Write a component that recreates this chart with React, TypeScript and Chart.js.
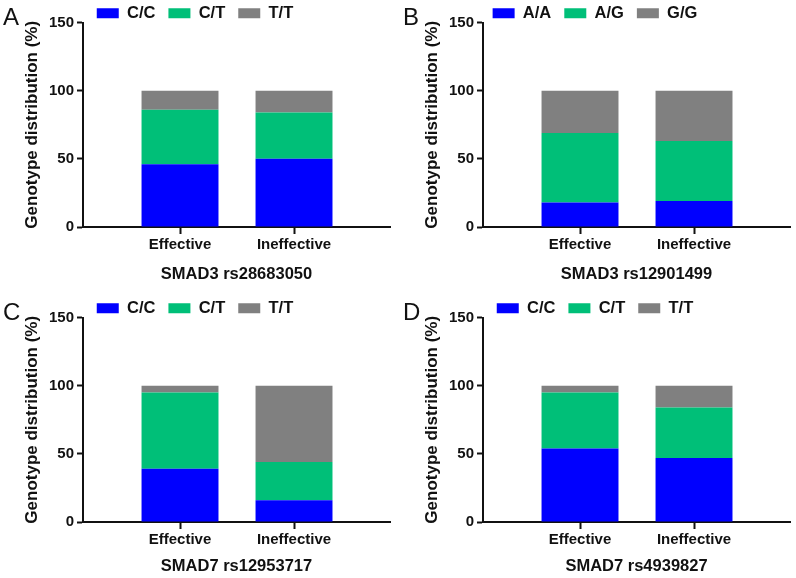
import { useEffect, useRef } from 'react';
import { Chart, registerables } from 'chart.js';

Chart.register(...registerables);

// data (percent of patients per genotype)
const groups = ['Effective', 'Ineffective'];
const panelLetters = ['A', 'B', 'C', 'D'];
const snpTitles = ['SMAD3 rs28683050', 'SMAD3 rs12901499', 'SMAD7 rs12953717', 'SMAD7 rs4939827'];
const genotypeLabels = [
  ['C/C', 'C/T', 'T/T'],
  ['A/A', 'A/G', 'G/G'],
  ['C/C', 'C/T', 'T/T'],
  ['C/C', 'C/T', 'T/T'],
];
const homozygousRef = [[46, 50], [18, 19], [39, 16], [54, 47]];
const heterozygous = [[40, 34], [51, 44], [56, 28], [41, 37]];
const homozygousAlt = [[14, 16], [31, 37], [5, 56], [5, 16]];
const yTicks = [0, 50, 100, 150];

const colors = ['#0000FF', '#00BF78', '#808080'];
const FONT = 'Arial, "Liberation Sans", sans-serif';
const INK = '#111111';

// the built-in legend adds a fixed 10px below its row; pull the plot up under it
const legendTrim = {
  id: 'legendTrim',
  beforeLayout(chart: any) {
    const legend = chart.legend;
    if (!legend || legend._trimmed) return;
    const fit = legend.fit;
    legend.fit = function () {
      fit.call(this);
      this.height -= 9;
    };
    legend._trimmed = true;
  },
};

interface PanelProps {
  index: number;
  left: number;
  top: number;
  width: number;
  height: number;
  titleGap: number;
}

function Panel({ index, left, top, width, height, titleGap }: PanelProps) {
  const canvasRef = useRef<HTMLCanvasElement>(null);

  useEffect(() => {
    if (!canvasRef.current) return;
    const series = [homozygousRef[index], heterozygous[index], homozygousAlt[index]];
    const chart = new Chart(canvasRef.current, {
      type: 'bar',
      data: {
        datasets: series.map((vals, s) => ({
          label: genotypeLabels[index][s],
          data: vals.map((v, i) => ({ x: i + 1, y: v })),
          backgroundColor: colors[s],
          borderWidth: 0,
          barPercentage: 0.675,
          categoryPercentage: 1,
        })),
      },
      plugins: [legendTrim],
      options: {
        animation: false,
        responsive: false,
        layout: { padding: { left: 0, right: 6, top: -8, bottom: 0 } },
        plugins: {
          legend: {
            display: true,
            position: 'top',
            labels: {
              boxWidth: 22,
              boxHeight: 10,
              padding: 13,
              color: INK,
              font: { family: FONT, size: 16.5, weight: 'bold' },
            },
          },
          tooltip: { enabled: false },
        },
        scales: {
          x: {
            type: 'linear',
            stacked: true,
            offset: false,
            min: 0.149,
            max: 2.842,
            afterBuildTicks: (axis) => {
              axis.ticks = groups.map((_, i) => ({ value: i + 1 }));
            },
            afterFit: (axis) => {
              axis.height = height - 227;
            },
            border: { display: true, color: INK, width: 2 },
            grid: { offset: false, drawOnChartArea: false, tickLength: 7, tickWidth: 2, tickColor: INK },
            ticks: {
              color: INK,
              padding: 2,
              autoSkip: false,
              maxRotation: 0,
              font: { family: FONT, size: 15, weight: 'bold' },
              callback: (v) => groups[Number(v) - 1] ?? '',
            },
            title: {
              display: true,
              text: snpTitles[index],
              color: INK,
              padding: { top: 0, bottom: titleGap },
              font: { family: FONT, size: 16.5, weight: 'bold' },
            },
          },
          y: {
            stacked: true,
            min: 0,
            max: 150,
            afterBuildTicks: (axis) => {
              axis.ticks = yTicks.map((value) => ({ value }));
            },
            afterFit: (axis) => {
              axis.width = 83;
            },
            border: { display: true, color: INK, width: 2 },
            grid: { drawOnChartArea: false, tickLength: 6, tickWidth: 2, tickColor: INK },
            ticks: {
              color: INK,
              padding: 3,
              font: { family: FONT, size: 15, weight: 'bold' },
            },
            title: {
              display: true,
              text: 'Genotype distribution (%)',
              color: INK,
              padding: { top: 22, bottom: 0 },
              font: { family: FONT, size: 17, weight: 'bold' },
            },
          },
        },
      },
    });
    return () => chart.destroy();
  }, [index, height, titleGap]);

  return (
    <div style={{ position: 'absolute', left, top, width, height }}>
      <canvas ref={canvasRef} width={width} height={height} style={{ width, height }} />
      <div
        style={{
          position: 'absolute',
          left: 3,
          top: 5,
          fontFamily: FONT,
          fontSize: 24,
          color: INK,
          lineHeight: 1,
        }}
      >
        {panelLetters[index]}
      </div>
    </div>
  );
}

export default function App() {
  const layout = [
    { left: 0, top: 0, width: 396, height: 289, titleGap: 5 },
    { left: 400, top: 0, width: 396, height: 289, titleGap: 5 },
    { left: 0, top: 295, width: 396, height: 283, titleGap: 2 },
    { left: 400, top: 295, width: 396, height: 283, titleGap: 2 },
  ];
  return (
    <div style={{ position: 'fixed', left: 0, top: 0, width: 796, height: 578, background: '#fff' }}>
      {layout.map((p, i) => (
        <Panel key={i} index={i} {...p} />
      ))}
    </div>
  );
}
